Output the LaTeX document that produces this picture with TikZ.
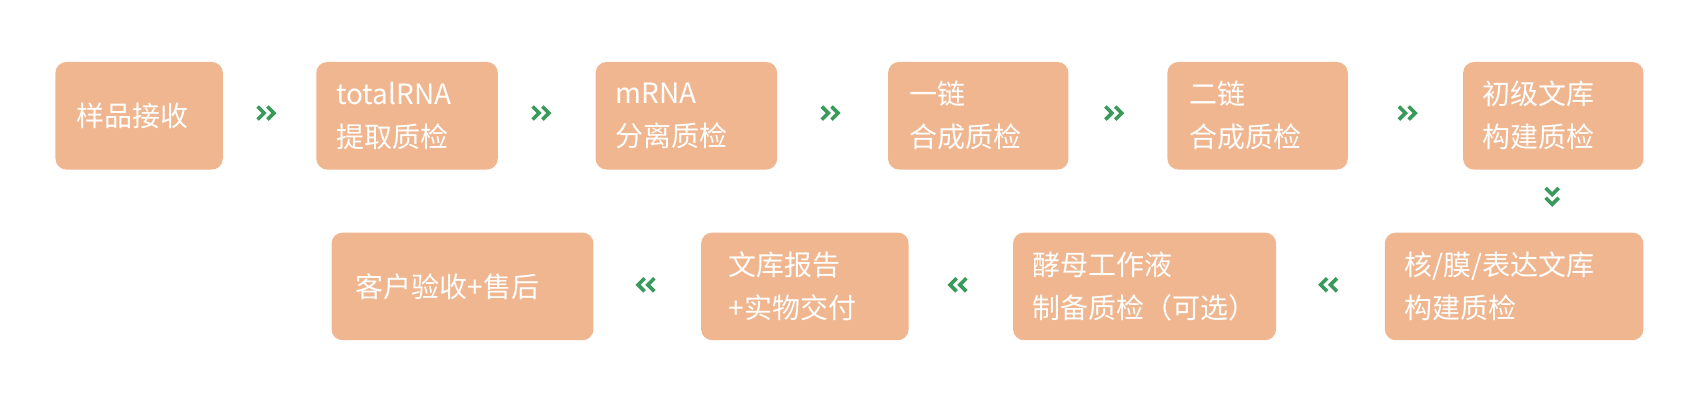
\documentclass[tikz,border=0pt]{standalone}
\usepackage{fontspec}
\setmainfont{Noto Sans CJK SC}
\begin{document}
\begin{tikzpicture}[x=1.087pt,y=-1.087pt,
  box/.style={fill=boxc,rounded corners=11pt},
  lbl/.style={anchor=west,text=white,font=\fontsize{28}{43}\selectfont,align=left,inner sep=0pt},
  chev/.style={draw=grn,line width=3.6pt}]
\definecolor{boxc}{HTML}{F0B68F}
\definecolor{grn}{HTML}{3A9A5C}
\useasboundingbox (0,0) rectangle (1564,369);
\tikzset{
  pics/chR/.style={code={\draw[chev] (-8,-6)--(-2,0)--(-8,6) (1,-6)--(7,0)--(1,6);}},
  pics/chL/.style={code={\draw[chev] (8,-6)--(2,0)--(8,6) (-1,-6)--(-7,0)--(-1,6);}},
  pics/chD/.style={code={\draw[chev] (-6,-8)--(0,-2)--(6,-8) (-6,1)--(0,7)--(6,1);}}}
% row 1
\path[box] (51,57) rectangle (205,156);
\node[lbl] (t1) at (70,106.5) {样品接收};
\path[box] (291,57) rectangle (458,156);
\node[lbl] (t2) at (309,106.5) {totalRNA\\提取质检};
\path[box] (548,57) rectangle (715,156);
\node[lbl] (t3) at (566,106.5) {mRNA\\分离质检};
\path[box] (817,57) rectangle (983,156);
\node[lbl] (t4) at (837,106.5) {一链\\合成质检};
\path[box] (1074,57) rectangle (1240,156);
\node[lbl] (t5) at (1094,106.5) {二链\\合成质检};
\path[box] (1346,57) rectangle (1512,156);
\node[lbl] (t6) at (1364,106.5) {初级文库\\构建质检};
% row 2
\path[box] (1274,214) rectangle (1512,313);
\node[lbl] (t7) at (1292,263.5) {核/膜/表达文库\\构建质检};
\path[box] (932,214) rectangle (1174,313);
\node[lbl] (t8) at (950,263.5) {酵母工作液\\制备质检（可选）};
\path[box] (645,214) rectangle (836,313);
\node[lbl] (t9) at (670,263.5) {文库报告\\+实物交付};
\path[box] (305,214) rectangle (546,313);
\node[lbl] (t10) at (327,263.5) {客户验收+售后};
% arrows
\pic at (245,104) {chR};
\pic at (498,104) {chR};
\pic at (764,104) {chR};
\pic at (1025,104) {chR};
\pic at (1295,104) {chR};
\pic at (1428,181) {chD};
\pic at (1222,262) {chL};
\pic at (881,262) {chL};
\pic at (594,262) {chL};
\end{tikzpicture}
\end{document}
